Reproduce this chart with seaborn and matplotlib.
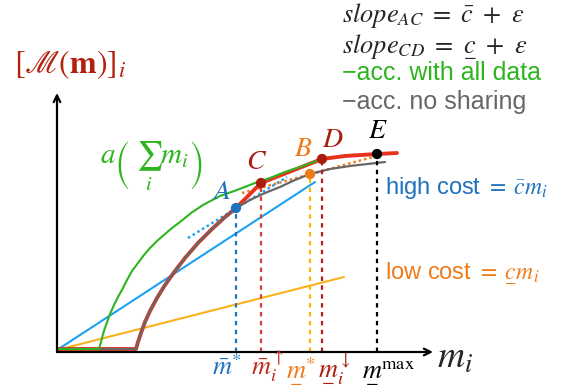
import matplotlib
matplotlib.use("Agg")
import matplotlib.pyplot as plt
import seaborn as sns

# values (x = m_i, y = [M(m)]_i, arbitrary units)
gray_x = [0, 79, 81, 84, 88, 93, 100, 108, 118, 128, 141, 155, 167, 179, 193, 208, 223, 238, 253, 273, 293, 328]
gray_y = [3, 3, 10, 19, 30, 41, 54, 67, 81, 94, 109, 123, 134, 144, 152, 159, 165, 172, 178, 183, 186, 190]

red_x = [0, 79, 81, 84, 88, 93, 100, 108, 118, 128, 141, 155, 167, 179, 204, 265, 288, 320, 340]
red_y = [3, 3, 10, 19, 30, 41, 54, 67, 81, 94, 109, 123, 134, 144, 169, 193, 196, 198, 199]

green_x = [0, 42, 44, 46, 49, 53, 57, 61, 66, 70, 75, 81, 87, 93, 100, 108, 115, 123, 134, 146, 163, 180, 198, 213, 228, 243, 265]
green_y = [3, 3, 10, 18, 27, 38, 47, 55, 64, 72, 81, 89, 97, 104, 111, 118, 124, 130, 139, 147, 156, 162, 169, 174, 180, 185, 193]

# cost lines through the origin
high_x = [0, 258]
high_y = [2, 170]
low_x = [0, 287]
low_y = [2, 75]

# tangents at A and B
tan_a_x = [131, 230]
tan_a_y = [114, 175]
tan_b_x = [185, 316]
tan_b_y = [159, 195]

# named points
pt_name = ["A", "C", "B", "D", "E"]
pt_x = [179, 204, 253, 265, 320]
pt_y = [144, 169, 178, 193, 198]

# x tick labels
tick_labels = [r"$\bar{m}^{*}$", r"$\bar{m}_i^{\uparrow}$", r"$\underset{-}{m}^{*}$",
               r"$\underset{-}{m}_i^{\downarrow}$", r"$\underset{-}{m}^{\mathrm{max}}$"]
tick_text_x = [155, 194, 229, 261, 305]

BLUE_LINE = "#1ba1f2"
BLUE = "#1f72bd"
ORANGE_LINE = "#f8b21c"
ORANGE = "#f07b18"
RED = "#e8321e"
DARKRED = "#a91d0e"
TITLERED = "#b3200e"
GREEN = "#2db41e"
GRAY = "#676767"

pt_color = {"A": BLUE, "C": DARKRED, "B": ORANGE, "D": DARKRED, "E": "black"}
vline_color = [BLUE, "#e23c3c", "#f8b400", "#b02020", "black"]
tick_color = [BLUE, "#c0281a", ORANGE, DARKRED, "black"]

sns.set_theme(style="white")
plt.rcParams["mathtext.fontset"] = "stix"
plt.rcParams["font.family"] = ["Liberation Sans", "DejaVu Sans"]

fig = plt.figure(figsize=(5.67, 3.92), dpi=100)
ax = fig.add_axes([57 / 567, 40 / 392, 376 / 567, 259 / 392])
ax.set_xlim(0, 376)
ax.set_ylim(0, 259)
ax.axis("off")

# axes with arrows
arr = dict(arrowstyle="->", lw=1.6, color="black", shrinkA=0, shrinkB=0)
ax.annotate("", xy=(1, 0), xytext=(0, 0), xycoords="axes fraction", arrowprops=arr)
ax.annotate("", xy=(0, 1), xytext=(0, 0), xycoords="axes fraction", arrowprops=arr)

# cost lines
sns.lineplot(x=high_x, y=high_y, color=BLUE_LINE, lw=1.5, ax=ax)
sns.lineplot(x=low_x, y=low_y, color=ORANGE_LINE, lw=1.5, ax=ax)

# tangents
ax.plot(tan_a_x, tan_a_y, color=BLUE_LINE, lw=1.8, ls=(0, (1, 1.2)))
ax.plot(tan_b_x, tan_b_y, color=ORANGE, lw=1.8, ls=(0, (1, 1.2)))

# accuracy curves
sns.lineplot(x=red_x, y=red_y, color=RED, lw=2.8, sort=False, ax=ax)
sns.lineplot(x=gray_x, y=gray_y, color=GRAY, lw=1.6, sort=False, ax=ax)
sns.lineplot(x=green_x, y=green_y, color=GREEN, lw=1.5, sort=False, ax=ax)

# vertical guides
for i, c in enumerate(vline_color):
    ax.vlines(pt_x[i], 0, pt_y[i], color=c, lw=1.6, ls=(0, (2, 2)))

sns.scatterplot(x=pt_x, y=pt_y, hue=pt_name, palette=pt_color, s=55,
                edgecolor="none", legend=False, ax=ax, zorder=5)

# point labels
lab_dx = {"A": -14, "C": -4, "B": -7, "D": 11, "E": 1}
lab_dy = {"A": 16, "C": 21, "B": 25, "D": 19, "E": 23}
for n, x, y in zip(pt_name, pt_x, pt_y):
    ax.text(x + lab_dx[n], y + lab_dy[n], "$" + n + "$", color=pt_color[n],
            fontsize=20, ha="center", va="center", zorder=6)

for lab, x, c in zip(tick_labels, tick_text_x, tick_color):
    ax.text(x, -23, lab, color=c, fontsize=19, ha="left", va="baseline", clip_on=False)

ax.text(380, -6, r"$m_i$", fontsize=27, ha="left", va="center")

# annotations
ax.text(-43, 287, r"$[\mathscr{M}(\mathbf{m})]_i$", color=TITLERED, fontsize=23,
        ha="left", va="center")
ax.text(285, 337, r"$slope_{AC}\ =\ \bar{c}\ +\ \epsilon$", fontsize=19, ha="left", va="center")
ax.text(285, 307, r"$slope_{CD}\ =\ \underset{-}{c}\ +\ \epsilon$", fontsize=19, ha="left", va="center")
ax.text(285, 279, "\u2212acc. with all data", color=GREEN, fontsize=18, ha="left", va="center")
ax.text(285, 250, "\u2212acc. no sharing", color=GRAY, fontsize=18, ha="left", va="center")
ax.text(43, 187, r"$a\left(\ \sum_i m_i\right)$", color=GREEN, fontsize=21, ha="left", va="center")
ax.text(328, 164, r"high cost $=\;\bar{c}m_i$", color=BLUE, fontsize=17, ha="left", va="center")
ax.text(328, 80, r"low cost $=\;\underset{-}{c}m_i$", color=ORANGE, fontsize=17, ha="left", va="center")

fig.savefig("out.png", dpi=100)
